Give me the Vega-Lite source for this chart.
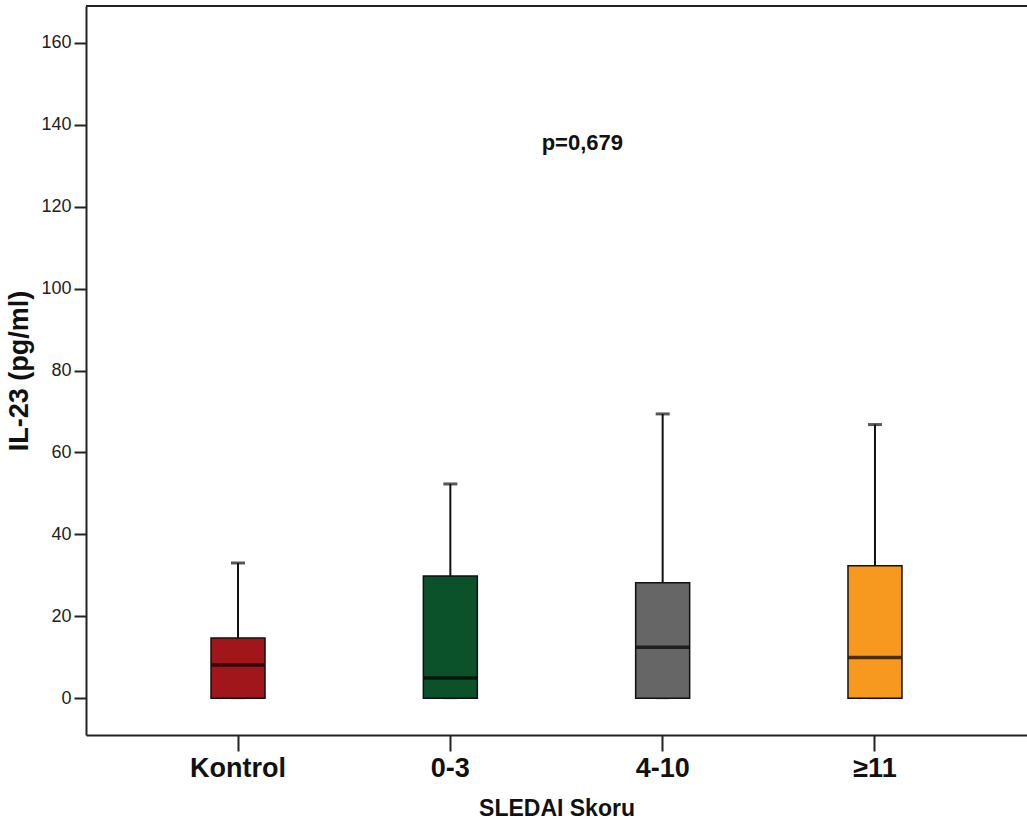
{
  "$schema": "https://vega.github.io/schema/vega-lite/v6.json",
  "width": 941,
  "height": 729,
  "autosize": {"type": "none"},
  "padding": {"left": 86, "top": 6, "right": 0, "bottom": 91},
  "background": "white",
  "config": {
    "view": {"stroke": null},
    "font": "Liberation Sans",
    "axis": {
      "domainColor": "#222222",
      "domainWidth": 2,
      "tickColor": "#222222",
      "tickWidth": 2,
      "grid": false,
      "labelFont": "Liberation Sans",
      "titleFont": "Liberation Sans",
      "labelColor": "#222222",
      "titleColor": "#111111"
    }
  },
  "datasets": {
    "boxes": [
      {"group": "Kontrol", "min": 0, "q1": 0, "median": 8.1, "q3": 14.7, "max": 33.0},
      {"group": "0-3", "min": 0, "q1": 0, "median": 4.9, "q3": 29.8, "max": 52.3},
      {"group": "4-10", "min": 0, "q1": 0, "median": 12.4, "q3": 28.2, "max": 69.4},
      {"group": "≥11", "min": 0, "q1": 0, "median": 9.9, "q3": 32.3, "max": 66.8}
    ],
    "note": [{"group": "0-3", "y": 135.6, "label": "p=0,679"}],
    "frame": [{"top": 169}]
  },
  "layer": [
    {
      "data": {"name": "boxes"},
      "mark": {"type": "rule", "color": "#111111", "strokeWidth": 2},
      "encoding": {
        "x": {
          "field": "group",
          "type": "nominal",
          "sort": ["Kontrol", "0-3", "4-10", "≥11"],
          "scale": {"type": "band", "paddingInner": 0, "paddingOuter": 0.216},
          "axis": {
            "title": "SLEDAI Skoru",
            "labelAngle": 0,
            "labelFontSize": 27,
            "labelFontWeight": "bold",
            "labelColor": "#111111",
            "labelPadding": 4,
            "tickSize": 16,
            "titleFontSize": 23,
            "titleFontWeight": "bold",
            "titlePadding": 16
          }
        },
        "y": {
          "field": "min",
          "type": "quantitative",
          "scale": {"domain": [-9, 169], "nice": false, "zero": false},
          "axis": {
            "title": "IL-23 (pg/ml)",
            "values": [0, 20, 40, 60, 80, 100, 120, 140, 160],
            "labelFontSize": 18,
            "labelPadding": 3,
            "tickSize": 12,
            "titleFontSize": 27,
            "titleFontWeight": "bold",
            "titlePadding": 7
          }
        },
        "y2": {"field": "max"}
      }
    },
    {
      "data": {"name": "boxes"},
      "mark": {"type": "tick", "color": "#111111", "size": 14, "thickness": 3},
      "encoding": {
        "x": {"field": "group", "type": "nominal", "sort": ["Kontrol", "0-3", "4-10", "≥11"]},
        "y": {"field": "max", "type": "quantitative"}
      }
    },
    {
      "data": {"name": "boxes"},
      "mark": {"type": "tick", "color": "#111111", "size": 14, "thickness": 2},
      "encoding": {
        "x": {"field": "group", "type": "nominal", "sort": ["Kontrol", "0-3", "4-10", "≥11"]},
        "y": {"field": "min", "type": "quantitative"}
      }
    },
    {
      "data": {"name": "boxes"},
      "mark": {"type": "bar", "size": 54, "stroke": "#111111", "strokeWidth": 1.5},
      "encoding": {
        "x": {"field": "group", "type": "nominal", "sort": ["Kontrol", "0-3", "4-10", "≥11"]},
        "y": {"field": "q1", "type": "quantitative"},
        "y2": {"field": "q3"},
        "color": {
          "field": "group",
          "type": "nominal",
          "scale": {
            "domain": ["Kontrol", "0-3", "4-10", "≥11"],
            "range": ["#a0161b", "#0b522b", "#666666", "#f7991f"]
          },
          "legend": null
        }
      }
    },
    {
      "data": {"name": "boxes"},
      "mark": {"type": "tick", "color": "#000000", "size": 53, "thickness": 3.5},
      "encoding": {
        "x": {"field": "group", "type": "nominal", "sort": ["Kontrol", "0-3", "4-10", "≥11"]},
        "y": {"field": "median", "type": "quantitative"}
      }
    },
    {
      "data": {"name": "frame"},
      "mark": {"type": "rule", "color": "#222222", "strokeWidth": 2},
      "encoding": {
        "y": {"field": "top", "type": "quantitative"}
      }
    },
    {
      "data": {"name": "note"},
      "mark": {"type": "text", "fontSize": 22, "fontWeight": "bold", "color": "#111111", "align": "center", "baseline": "middle", "dx": 132},
      "encoding": {
        "x": {"field": "group", "type": "nominal", "sort": ["Kontrol", "0-3", "4-10", "≥11"]},
        "y": {"field": "y", "type": "quantitative"},
        "text": {"field": "label"}
      }
    }
  ]
}
